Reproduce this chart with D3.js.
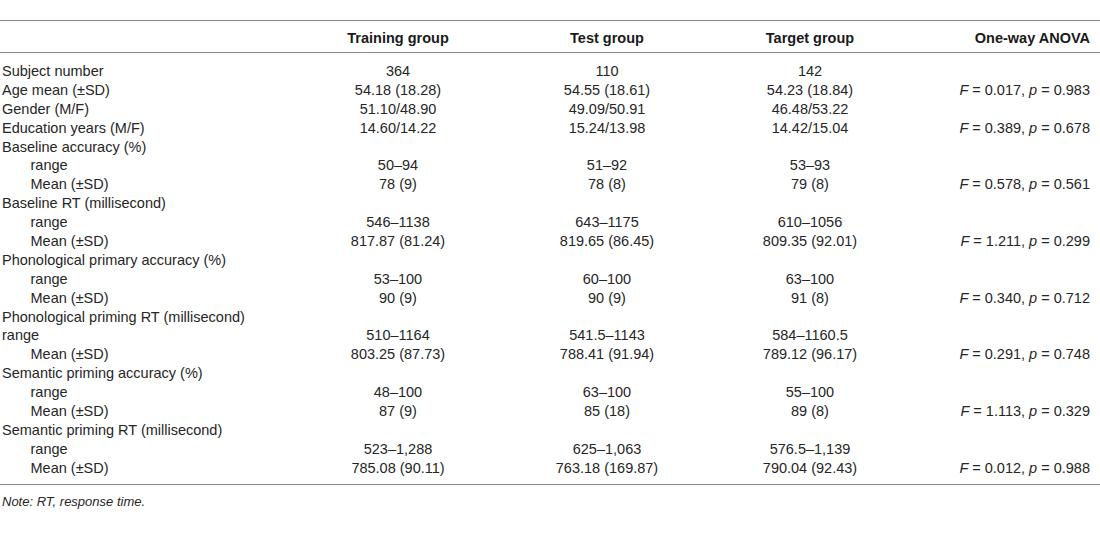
<!DOCTYPE html>
<html>
<head>
<meta charset="utf-8">
<script src="https://cdn.jsdelivr.net/npm/d3@7"></script>
<style>
  html, body { margin: 0; padding: 0; background: #fff; }
  svg { display: block; }
  text { font-family: "Liberation Sans", Arial, Helvetica, sans-serif; }
</style>
</head>
<body>
<svg id="chart" width="1100" height="543"></svg>
<script>
// ---- data ----
const columns = ["", "Training group", "Test group", "Target group", "One-way ANOVA"];
const rowLabels = [
  "Subject number", "Age mean (±SD)", "Gender (M/F)", "Education years (M/F)",
  "Baseline accuracy (%)", "range", "Mean (±SD)",
  "Baseline RT (millisecond)", "range", "Mean (±SD)",
  "Phonological primary accuracy (%)", "range", "Mean (±SD)",
  "Phonological priming RT (millisecond)", "range", "Mean (±SD)",
  "Semantic priming accuracy (%)", "range", "Mean (±SD)",
  "Semantic priming RT (millisecond)", "range", "Mean (±SD)"
];
const rowIndent = [0,0,0,0, 0,1,1, 0,1,1, 0,1,1, 0,0,1, 0,1,1, 0,1,1];
const training = ["364", "54.18 (18.28)", "51.10/48.90", "14.60/14.22",
  "", "50–94", "78 (9)", "", "546–1138", "817.87 (81.24)",
  "", "53–100", "90 (9)", "", "510–1164", "803.25 (87.73)",
  "", "48–100", "87 (9)", "", "523–1,288", "785.08 (90.11)"];
const test = ["110", "54.55 (18.61)", "49.09/50.91", "15.24/13.98",
  "", "51–92", "78 (8)", "", "643–1175", "819.65 (86.45)",
  "", "60–100", "90 (9)", "", "541.5–1143", "788.41 (91.94)",
  "", "63–100", "85 (18)", "", "625–1,063", "763.18 (169.87)"];
const target = ["142", "54.23 (18.84)", "46.48/53.22", "14.42/15.04",
  "", "53–93", "79 (8)", "", "610–1056", "809.35 (92.01)",
  "", "63–100", "91 (8)", "", "584–1160.5", "789.12 (96.17)",
  "", "55–100", "89 (8)", "", "576.5–1,139", "790.04 (92.43)"];
// ANOVA: F and p values (null = empty cell)
const anovaF = [null, "0.017", null, "0.389", null, null, "0.578", null, null, "1.211",
  null, null, "0.340", null, null, "0.291", null, null, "1.113", null, null, "0.012"];
const anovaP = [null, "0.983", null, "0.678", null, null, "0.561", null, null, "0.299",
  null, null, "0.712", null, null, "0.748", null, null, "0.329", null, null, "0.988"];
const note = "Note: RT, response time.";

// ---- layout ----
const svg = d3.select("#chart");
const W = 1100;
const textColor = "#262626";
const lineColor = "#8a8a8a";
const fontSize = 14.5;

const y = d3.scalePoint()
  .domain(d3.range(rowLabels.length))
  .range([71, 467.5]);

const colX = d3.scaleOrdinal()
  .domain(columns)
  .range([2, 398, 607, 810, 1090]);

// rules
[20.5, 52.5, 484.5].forEach(yy => {
  svg.append("line")
    .attr("x1", 0).attr("x2", W)
    .attr("y1", yy).attr("y2", yy)
    .attr("stroke", lineColor).attr("stroke-width", 1.2);
});

// header
svg.selectAll("text.header")
  .data(columns.slice(1))
  .join("text")
  .attr("class", "header")
  .attr("x", d => colX(d))
  .attr("y", 37.5)
  .attr("dy", "0.35em")
  .attr("text-anchor", (d, i) => i === 3 ? "end" : "middle")
  .attr("font-size", fontSize)
  .attr("font-weight", "bold")
  .attr("fill", "#1a1a1a")
  .text(d => d);

// rows
const rows = svg.selectAll("g.row")
  .data(rowLabels.map((label, i) => ({ label, i })))
  .join("g")
  .attr("class", "row")
  .attr("transform", d => `translate(0,${y(d.i)})`);

rows.append("text")
  .attr("x", d => colX(columns[0]) + (rowIndent[d.i] ? 28.5 : 0))
  .attr("dy", "0.35em")
  .attr("font-size", fontSize)
  .attr("fill", textColor)
  .text(d => d.label);

[training, test, target].forEach((arr, k) => {
  rows.append("text")
    .attr("x", colX(columns[k + 1]))
    .attr("dy", "0.35em")
    .attr("text-anchor", "middle")
    .attr("font-size", fontSize)
    .attr("fill", textColor)
    .text(d => arr[d.i]);
});

const an = rows.filter(d => anovaF[d.i] !== null)
  .append("text")
  .attr("x", colX(columns[4]))
  .attr("dy", "0.35em")
  .attr("text-anchor", "end")
  .attr("font-size", fontSize)
  .attr("fill", textColor);
an.append("tspan").attr("font-style", "italic").text("F");
an.append("tspan").text(d => ` = ${anovaF[d.i]}, `);
an.append("tspan").attr("font-style", "italic").text("p");
an.append("tspan").text(d => ` = ${anovaP[d.i]}`);

// note
svg.append("text")
  .attr("x", 2)
  .attr("y", 501)
  .attr("dy", "0.35em")
  .attr("font-size", 13)
  .attr("font-style", "italic")
  .attr("fill", textColor)
  .text(note);
</script>
</body>
</html>
